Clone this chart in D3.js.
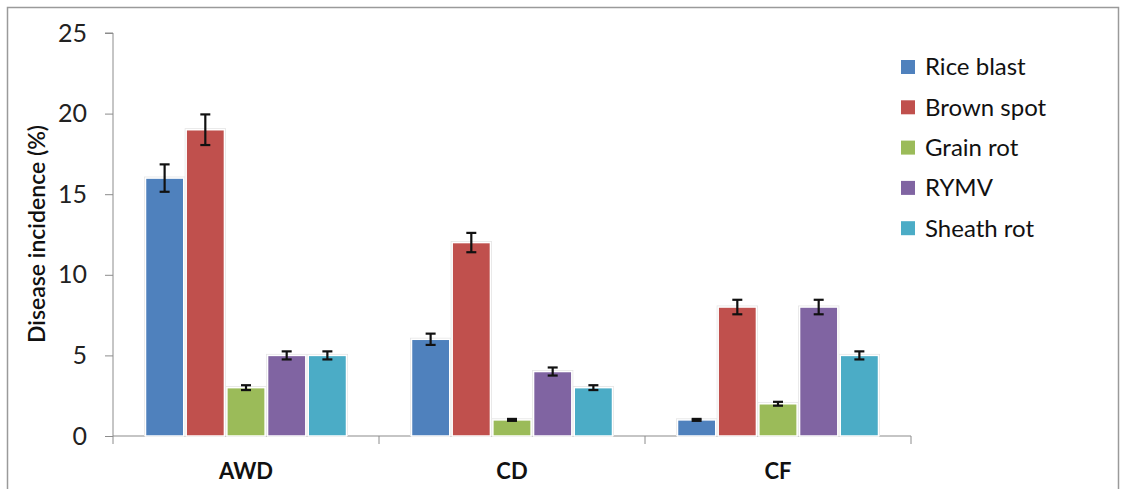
<!DOCTYPE html>
<html><head><meta charset="utf-8">
<script src="https://cdn.jsdelivr.net/npm/d3@7"></script>
<style>body{margin:0;background:#fff}svg{display:block}</style>
</head><body>
<svg id="c" width="1126" height="489"></svg>
<script>
const categories = ["AWD", "CD", "CF"];
const seriesNames = ["Rice blast", "Brown spot", "Grain rot", "RYMV", "Sheath rot"];
const riceBlast = [16, 6, 1];
const brownSpot = [19, 12, 8];
const grainRot = [3, 1, 2];
const rymv = [5, 4, 8];
const sheathRot = [5, 3, 5];
const riceBlastErr = [0.85, 0.35, 0.06];
const brownSpotErr = [0.95, 0.6, 0.45];
const grainRotErr = [0.15, 0.06, 0.12];
const rymvErr = [0.25, 0.25, 0.45];
const sheathRotErr = [0.25, 0.15, 0.25];
const yTicks = [0, 5, 10, 15, 20, 25];
const colors = ["#4F81BD", "#C0504D", "#9BBB59", "#8064A2", "#4BACC6"];

const values = [riceBlast, brownSpot, grainRot, rymv, sheathRot];
const errs = [riceBlastErr, brownSpotErr, grainRotErr, rymvErr, sheathRotErr];

const svg = d3.select("#c");
const font = "Lato, 'Open Sans', sans-serif";
const L = 113, R = 911, T = 33, B = 436;

// frame
svg.append("rect").attr("x", 7.5).attr("y", 7.5).attr("width", 1111).attr("height", 500)
  .attr("fill", "none").attr("stroke", "#9a9a9a").attr("stroke-width", 1.5);

const y = d3.scaleLinear().domain([0, 25]).range([B, T]);
const x0 = d3.scaleBand().domain(categories).range([L, R]).paddingInner(0).paddingOuter(0);
const groupW = 201;
const x1 = d3.scaleBand().domain(seriesNames).range([0, groupW]).paddingInner(0.06);

// y axis
const yAxis = d3.axisLeft(y).tickValues(yTicks).tickSize(8).tickPadding(18);
const gy = svg.append("g").attr("transform", `translate(${L},0)`).call(yAxis);
gy.select(".domain").attr("stroke", "#8c8c8c").attr("d", `M-8,${T}H0V${B}`);
gy.selectAll(".tick line").attr("stroke", "#8c8c8c");
gy.selectAll("text").attr("font-family", font).attr("font-size", 25).attr("fill", "#222");

// x axis
const gx = svg.append("g").attr("transform", `translate(0,${B})`);
gx.append("line").attr("x1", L).attr("x2", R).attr("stroke", "#8c8c8c").attr("stroke-width", 1.2);
const bounds = categories.map(c => x0(c)).concat([R]);
gx.selectAll(".xt").data(bounds).join("line")
  .attr("x1", d => d).attr("x2", d => d).attr("y1", 0).attr("y2", 8).attr("stroke", "#8c8c8c");
gx.selectAll(".xl").data(categories).join("text")
  .attr("x", d => x0(d) + x0.bandwidth() / 2).attr("y", 43)
  .attr("text-anchor", "middle").attr("font-family", font).attr("font-weight", "bold")
  .attr("font-size", 22).attr("fill", "#111").text(d => d);

// y title
svg.append("text").attr("transform", "translate(45,234) rotate(-90)")
  .attr("text-anchor", "middle").attr("font-family", font).attr("font-weight", 600)
  .attr("font-size", 23).attr("fill", "#111").text("Disease incidence (%)");

// bars
const barData = [];
categories.forEach((c, ci) => seriesNames.forEach((s, si) => {
  barData.push({c, s, si, v: values[si][ci], e: errs[si][ci]});
}));
const gOff = (x0.bandwidth() - groupW) / 2;
const bx = d => x0(d.c) + gOff + x1(d.s);
// shadow
svg.append("g").selectAll("rect").data(barData).join("rect")
  .attr("x", d => bx(d) - 1.5).attr("y", d => y(d.v) - 1.5)
  .attr("width", x1.bandwidth() + 3).attr("height", d => B - y(d.v) + 1.5)
  .attr("fill", "#e4e4e4");
svg.append("g").selectAll("rect").data(barData).join("rect")
  .attr("x", d => bx(d)).attr("y", d => y(d.v))
  .attr("width", x1.bandwidth()).attr("height", d => B - y(d.v))
  .attr("fill", d => colors[d.si]).attr("stroke", "#fff").attr("stroke-width", 1.5);

// error bars
const eg = svg.append("g").attr("stroke", "#111").attr("stroke-width", 2.2);
barData.forEach(d => {
  const cx = bx(d) + x1.bandwidth() / 2;
  eg.append("line").attr("x1", cx).attr("x2", cx).attr("y1", y(d.v + d.e)).attr("y2", y(d.v - d.e));
  [d.v + d.e, d.v - d.e].forEach(v => eg.append("line")
    .attr("x1", cx - 5).attr("x2", cx + 5).attr("y1", y(v)).attr("y2", y(v)));
});

// legend
const lg = svg.append("g").attr("transform", "translate(901,67)");
seriesNames.forEach((s, i) => {
  const g = lg.append("g").attr("transform", `translate(0,${i * 40.3})`);
  g.append("rect").attr("x", 0).attr("y", -7).attr("width", 14).attr("height", 14).attr("fill", colors[i]);
  g.append("text").attr("x", 24).attr("y", 0).attr("dy", "0.35em")
    .attr("font-family", font).attr("font-size", 24).attr("fill", "#111").text(s);
});
</script>
</body></html>
